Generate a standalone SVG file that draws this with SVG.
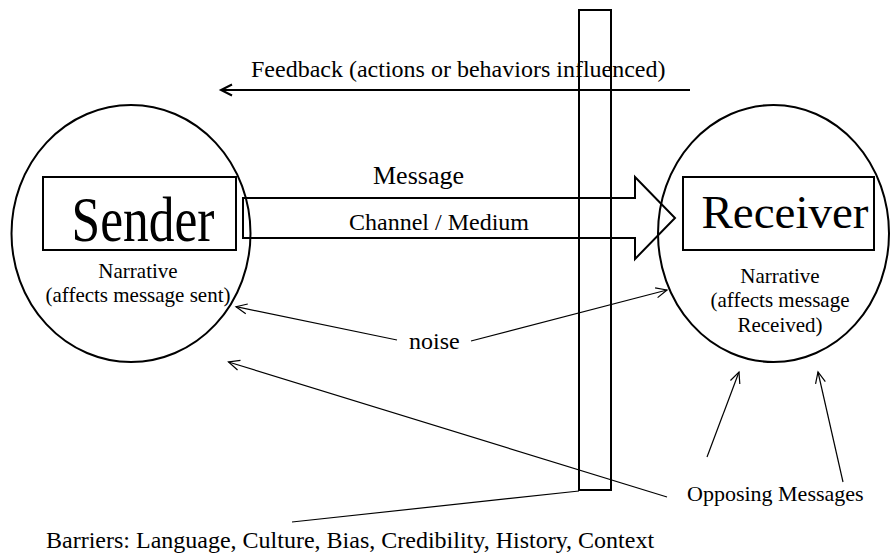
<svg xmlns="http://www.w3.org/2000/svg" width="890" height="556" viewBox="0 0 890 556">
<style>
text{font-family:"Liberation Serif","Times New Roman",serif;fill:#000}
.thick{fill:none;stroke:#000;stroke-width:2}
.thin{fill:none;stroke:#000;stroke-width:1.2}
.mid{text-anchor:middle}
</style>
<defs>
<marker id="openThin" markerUnits="userSpaceOnUse" orient="auto" overflow="visible" refX="0" refY="0" markerWidth="1" markerHeight="1"><path d="M-11,-5 L0,0 L-11,5" fill="none" stroke="#000" stroke-width="1.2"/></marker>
<marker id="openThick" markerUnits="userSpaceOnUse" orient="auto" overflow="visible" refX="0" refY="0" markerWidth="1" markerHeight="1"><path d="M-11,-5.5 L0,0 L-11,5.5" fill="none" stroke="#000" stroke-width="2"/></marker>
</defs>
<rect width="890" height="556" fill="#fff"/>
<g id="sender">
<ellipse class="thick" cx="131" cy="233.5" rx="119.5" ry="128.5"/>
<rect class="thick" x="43" y="177" width="193" height="73"/>
<text x="71.5" y="241" font-size="64" textLength="143" lengthAdjust="spacingAndGlyphs">Sender</text>
<text class="mid" x="138" y="278" font-size="21">Narrative</text>
<text class="mid" x="138" y="302" font-size="21">(affects message sent)</text>
</g>
<g id="receiver">
<ellipse class="thick" cx="773.5" cy="233.5" rx="115.5" ry="128.5"/>
<rect class="thick" x="683" y="177" width="191" height="73"/>
<text x="701.5" y="228" font-size="47">Receiver</text>
<text class="mid" x="780" y="283" font-size="21">Narrative</text>
<text class="mid" x="780" y="307" font-size="21">(affects message</text>
<text class="mid" x="780" y="332" font-size="21">Received)</text>
</g>
<g id="barrier">
<rect class="thick" x="579" y="10" width="32" height="480"/>
</g>
<g id="channel">
<polygon class="thick" points="243,198 635,198 635,177 675,218 635,259 635,238 243,238"/>
<text x="373" y="184" font-size="26">Message</text>
<text x="349" y="230" font-size="24">Channel / Medium</text>
</g>
<g id="labels">
<text x="251" y="77" font-size="24">Feedback (actions or behaviors influenced)</text>
<text x="409" y="349" font-size="24">noise</text>
<text x="687" y="501" font-size="22">Opposing Messages</text>
<text x="46" y="548" font-size="24">Barriers: Language, Culture, Bias, Credibility, History, Context</text>
</g>
<g id="connectors">
<line class="thick" x1="690" y1="90" x2="221" y2="90" marker-end="url(#openThick)"/>
<line class="thin" x1="397" y1="340" x2="236" y2="306.7" marker-end="url(#openThin)"/>
<line class="thin" x1="471" y1="341" x2="667" y2="290" marker-end="url(#openThin)"/>
<line class="thin" x1="667" y1="497" x2="228.5" y2="362" marker-end="url(#openThin)"/>
<line class="thin" x1="707" y1="457" x2="739" y2="372" marker-end="url(#openThin)"/>
<line class="thin" x1="843" y1="482" x2="818" y2="372" marker-end="url(#openThin)"/>
<line class="thin" x1="292" y1="522" x2="579" y2="491"/>
</g>
</svg>
